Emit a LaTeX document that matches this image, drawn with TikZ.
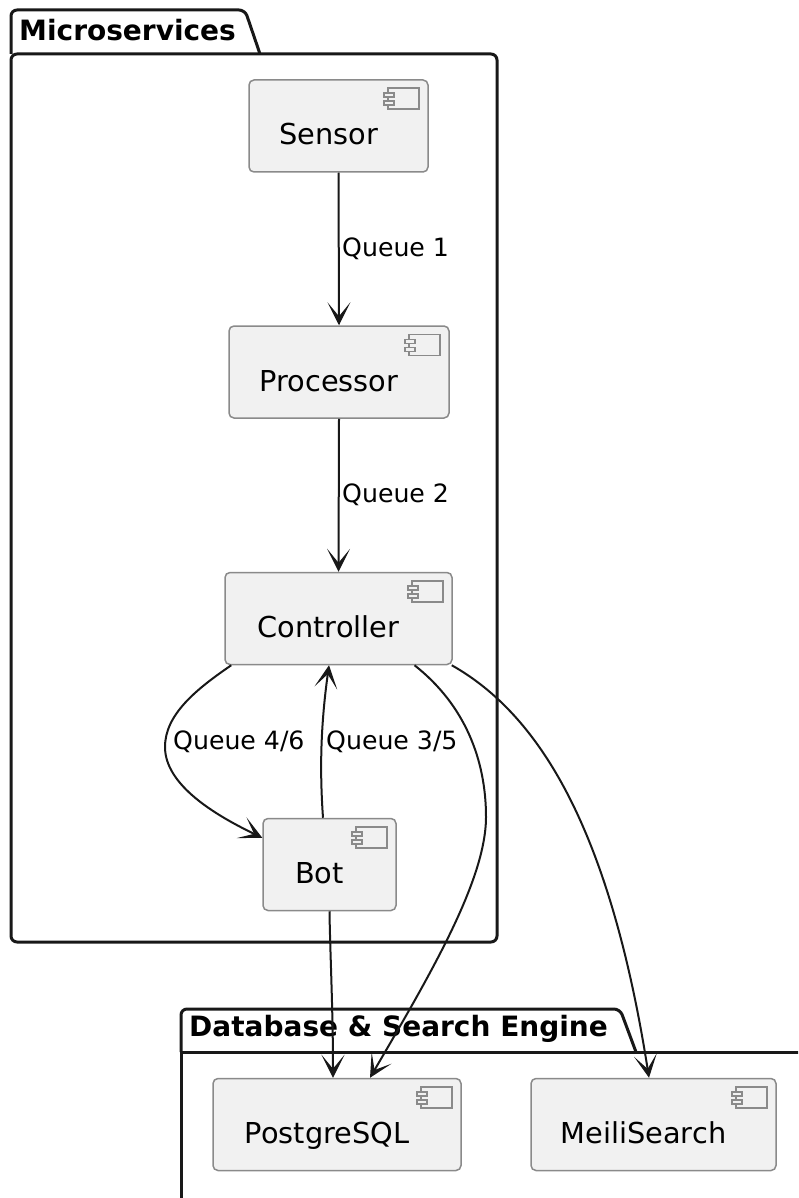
\documentclass[tikz,border=0pt]{standalone}
\usepackage{fontspec}
\setmainfont{DejaVu Sans}
\usetikzlibrary{calc, arrows.meta}

\definecolor{boxfill}{HTML}{F1F1F1}
\definecolor{boxline}{HTML}{8A8A8A}
\definecolor{inkline}{HTML}{181818}

\tikzset{
  compbox/.style={draw=boxline, line width=1.5pt, fill=boxfill, rounded corners=5pt, inner sep=0pt, minimum height=92pt},
  comptext/.style={inner sep=0pt, anchor=base, text=black, font=\fontsize{28.8}{34}\selectfont},
  pkgline/.style={draw=inkline, line width=3pt, line join=round},
  pkgtext/.style={inner sep=0pt, anchor=west, text=black, font=\fontsize{28}{33}\selectfont\bfseries},
  flowtext/.style={inner sep=0pt, anchor=west, text=black, font=\fontsize{25.2}{30}\selectfont},
  flowhead/.tip={Stealth[length=23pt, width=23pt, inset=14pt, line width=1.2pt]},
  flow/.style={draw=inkline, line width=2pt, -flowhead},
}

\begin{document}
\begin{tikzpicture}[x=1pt, y=-1pt]
  \clip (0,0) rectangle (798,1198);
  % packages
  \draw[pkgline, rounded corners=6pt] (11,54) -- (11,10) -- (245,10) -- (260,54);
  \draw[pkgline, rounded corners=6pt] (11,54) -- (497,54) -- (497,942) -- (11,942) -- cycle;
  \draw[pkgline, rounded corners=6pt] (181,1052) -- (181,1009) -- (620,1009) -- (636,1052);
  \draw[pkgline] (181,1052) -- (810,1052);
  \draw[pkgline] (181,1052) -- (181,1210);
  \node[pkgtext] (microservices) at (19,30) {Microservices};
  \node[pkgtext] (database) at (189,1029) {Database \& Search Engine};

  % components
  \node[compbox, minimum width=179pt] (sensor) at (338.5,126) {};
  \node[compbox, minimum width=220pt] (processor) at (339,372) {};
  \node[compbox, minimum width=227pt] (controller) at (338.5,618.5) {};
  \node[compbox, minimum width=133pt] (bot) at (329.5,864.5) {};
  \node[compbox, minimum width=248pt] (postgres) at (337,1124.5) {};
  \node[compbox, minimum width=245pt] (meili) at (653.5,1124.5) {};
  \foreach \n/\t in {sensor/Sensor, processor/Processor, controller/Controller, bot/Bot, postgres/PostgreSQL, meili/MeiliSearch} {
    \node[comptext] (\n-text) at ($(\n)+(-10,19)$) {\t};
    \draw[draw=boxline, line width=1.5pt] ($(\n.north east)+(-41,9)$) rectangle ($(\n.north east)+(-10,30)$);
    \draw[draw=boxline, line width=1.5pt, fill=boxfill] ($(\n.north east)+(-45,14)$) rectangle ($(\n.north east)+(-35,18)$);
    \draw[draw=boxline, line width=1.5pt, fill=boxfill] ($(\n.north east)+(-45,22)$) rectangle ($(\n.north east)+(-35,26)$);
  }

  % connectors
  \draw[flow] (sensor.south) -- (processor.north);
  \draw[flow] (processor.south) -- (controller.north);
  \draw[flow] ($(controller.south west)+(7,0)$) .. controls (195,690) and (165,715) .. (165,747) .. controls (165,785) and (215,815) .. ($(bot.north west)+(0,20)$);
  \draw[flow] ($(bot.north)+(-6.5,0)$) .. controls (320,775) and (320,730) .. ($(controller.south)+(-9.5,0)$);
  \draw[flow] ($(controller.south)+(76,0)$) .. controls (465,705) and (486,760) .. (486,817) .. controls (486,880) and (430,975) .. ($(postgres.north)+(33,0)$);
  \draw[flow] ($(controller.south east)+(-1,0)$) .. controls (540,715) and (610,830) .. (meili.north -| 649,0);
  \draw[flow] (bot.south) .. controls (330,950) and (333,1010) .. ($(postgres.north)+(-4,0)$);

  \node[flowtext] (queue1) at (342,249) {Queue 1};
  \node[flowtext] (queue2) at (342,495) {Queue 2};
  \node[flowtext] (queue46) at (173,742) {Queue 4/6};
  \node[flowtext] (queue35) at (326,742) {Queue 3/5};
\end{tikzpicture}
\end{document}
